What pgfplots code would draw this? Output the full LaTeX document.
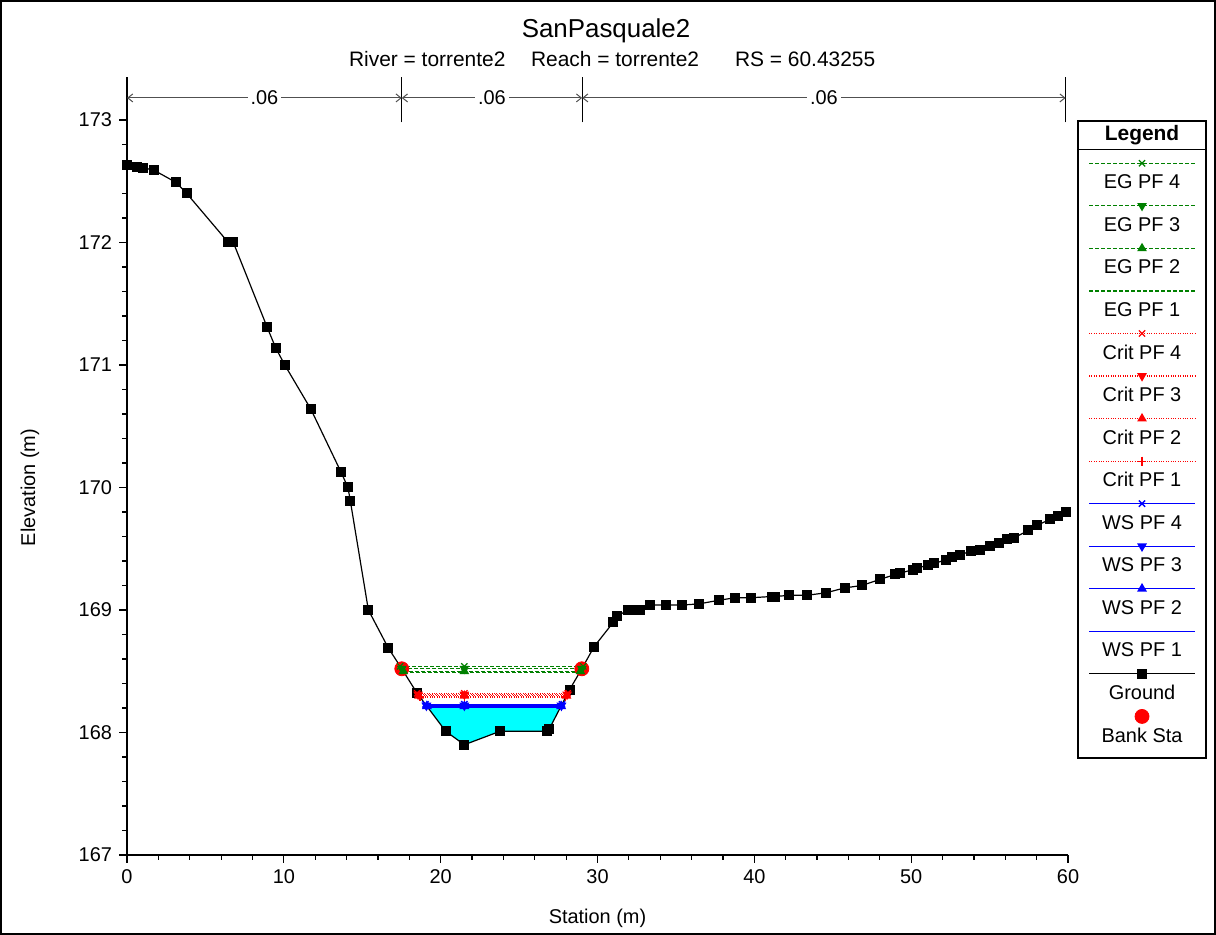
\documentclass[border=0pt]{standalone}
\usepackage{fontspec}
\setmainfont{Liberation Sans}
\usepackage{pgfplots}
\usepackage{pgfplotstable}
\pgfplotsset{compat=1.18}
\usetikzlibrary{arrows.meta}

\definecolor{egreen}{RGB}{0,128,0}
\definecolor{cred}{RGB}{255,0,0}
\definecolor{wblue}{RGB}{0,0,255}
\definecolor{water}{RGB}{0,255,255}
\definecolor{ngray}{RGB}{80,80,80}

% Ground profile: station (m), elevation (m)
\pgfplotstableread{
sta elev
0.00 172.63
0.62 172.62
1.04 172.61
1.72 172.59
3.13 172.49
3.81 172.40
6.46 172.00
6.78 172.00
8.93 171.31
9.48 171.14
10.06 171.00
11.72 170.64
13.63 170.13
14.09 170.00
14.24 169.89
15.39 169.00
16.66 168.69
17.52 168.52
18.50 168.32
20.32 168.01
21.51 167.90
23.79 168.01
26.77 168.01
26.93 168.03
28.22 168.35
29.00 168.52
29.78 168.70
31.01 168.90
31.23 168.95
31.97 169.00
32.40 169.00
32.72 169.00
33.35 169.04
34.35 169.04
35.37 169.04
36.48 169.05
37.76 169.08
38.78 169.10
39.78 169.10
41.11 169.11
41.33 169.11
42.24 169.12
43.35 169.12
44.56 169.14
45.75 169.18
46.85 169.20
48.02 169.25
48.98 169.29
49.30 169.30
50.11 169.33
50.40 169.34
51.10 169.37
51.47 169.38
52.23 169.41
52.60 169.43
53.12 169.45
53.81 169.48
54.40 169.49
55.04 169.52
55.63 169.55
56.10 169.58
56.57 169.59
57.48 169.65
58.01 169.69
58.86 169.74
59.33 169.77
59.85 169.80
}\ground

\newcommand{\txt}{\fontsize{10}{12}\selectfont}

\tikzset{
  egline/.style={egreen, line width=0.6bp, dash pattern=on 2bp off 1bp},
  critline/.style={cred, line width=0.6bp, dash pattern=on 0.5bp off 0.7bp},
  wsline/.style={wblue, line width=0.7bp},
  nbar/.style={ngray, line width=0.5bp, {Straight Barb[length=2.5bp,width=4bp]}-{Straight Barb[length=2.5bp,width=4bp]}},
  nlab/.style={fill=white, inner sep=1.5bp, text=black, font=\txt},
}

\begin{document}
\begin{tikzpicture}[x=1bp,y=1bp]
\useasboundingbox (0,0) rectangle (608,467.5);
\draw[line width=1.2bp] (0.6,0.6) rectangle (607.4,466.9);

\node[anchor=base, font=\fontsize{13}{15}\selectfont] at (303,448.5) {SanPasquale2};
\node[anchor=base west, font=\fontsize{10.5}{12}\selectfont] at (171,434) {River = torrente2};
\node[anchor=base west, font=\fontsize{10.5}{12}\selectfont] at (262,434) {Reach = torrente2};
\node[anchor=base west, font=\fontsize{10.5}{12}\selectfont] at (364,434) {RS = 60.43255};

\begin{axis}[
  at={(63.5bp,40bp)}, anchor=south west,
  scale only axis, width=470.5bp, height=367.5bp,
  xmin=0, xmax=60, ymin=167, ymax=173,
  axis x line=bottom, axis y line=left,
  axis line style={-, line width=0.6bp},
  xtick={0,10,...,60}, ytick={167,...,173},
  minor x tick num=4, minor y tick num=4,
  tick align=outside, major tick length=4bp, minor tick length=2.5bp,
  tick style={black, line width=0.6bp},
  tick label style={font=\txt},
  /pgf/number format/assume math mode=true,
  xlabel={Station (m)}, ylabel={Elevation (m)},
  label style={font=\txt},
  xlabel style={at={(axis description cs:0.5,-0.0857)}, anchor=center},
  ylabel style={at={(axis description cs:-0.1031,0.5)}, anchor=center},
  clip=false,
]
% water area below the computed surface
\addplot[fill=water, draw=none] coordinates {
  (19.09,168.22) (20.32,168.01) (21.51,167.90) (23.79,168.01)
  (26.77,168.01) (26.93,168.03) (27.70,168.22)};

% ground
\addplot[black, line width=0.6bp, mark=square*, mark size=2.2bp]
  table[x=sta, y=elev] {\ground};

% bank stations
\addplot[only marks, cred, mark=*, mark size=3.5bp]
  coordinates {(17.52,168.52) (29.00,168.52)};

% water surface
\addplot[wsline] coordinates {(19.18,168.205) (27.64,168.205)};
\addplot[wsline, mark=triangle*, mark size=2.2bp]
  coordinates {(19.12,168.215) (21.51,168.215) (27.68,168.215)};
\addplot[wsline, mark=triangle*, mark size=2.2bp, mark options={rotate=180}]
  coordinates {(19.09,168.22) (21.51,168.22) (27.70,168.22)};
\addplot[wsline, mark=x, mark size=2.2bp]
  coordinates {(19.03,168.23) (21.51,168.23) (27.74,168.23)};

% critical depth
\addplot[critline, mark=+, mark size=2.2bp, mark options={solid}]
  coordinates {(18.68,168.29) (21.51,168.29) (27.98,168.29)};
\addplot[critline, mark=triangle*, mark size=2.2bp, mark options={solid}]
  coordinates {(18.62,168.30) (21.51,168.30) (28.02,168.30)};
\addplot[critline, mark=triangle*, mark size=2.2bp, mark options={solid, rotate=180}]
  coordinates {(18.56,168.31) (21.51,168.31) (28.06,168.31)};
\addplot[critline, mark=x, mark size=2.2bp, mark options={solid}]
  coordinates {(18.50,168.32) (21.51,168.32) (28.10,168.32)};

% energy grade
\addplot[egline] coordinates {(17.67,168.49) (28.86,168.49)};
\addplot[egline, mark=triangle*, mark size=2.2bp, mark options={solid}]
  coordinates {(17.62,168.50) (21.51,168.50) (28.91,168.50)};
\addplot[egline, mark=triangle*, mark size=2.2bp, mark options={solid, rotate=180}]
  coordinates {(17.52,168.52) (21.51,168.52) (29.00,168.52)};
\addplot[egline, mark=x, mark size=2.2bp, mark options={solid}]
  coordinates {(17.42,168.54) (21.51,168.54) (29.09,168.54)};

% Manning's n regions
\draw[line width=0.6bp] (axis cs:0,173) -- (axis cs:0,173.35);
\draw[line width=0.6bp] (axis cs:17.52,172.98) -- (axis cs:17.52,173.35);
\draw[line width=0.6bp] (axis cs:29.02,172.98) -- (axis cs:29.02,173.35);
\draw[line width=0.6bp] (axis cs:59.85,172.98) -- (axis cs:59.85,173.35);
\draw[nbar] (axis cs:0,173.18) -- node[nlab] {.06} (axis cs:17.52,173.18);
\draw[nbar] (axis cs:17.52,173.18) -- node[nlab] {.06} (axis cs:29.02,173.18);
\draw[nbar] (axis cs:29.02,173.18) -- node[nlab] {.06} (axis cs:59.85,173.18);
\end{axis}

% legend panel
\begin{axis}[
  at={(539bp,88.5bp)}, anchor=south west,
  scale only axis, width=64bp, height=318.5bp,
  xmin=1078, xmax=1206, ymin=-758, ymax=-121,
  ticks=none, axis line style={black, line width=0.8bp},
  clip=false,
]
\draw[line width=0.6bp] (axis cs:1078,-149.3) -- (axis cs:1206,-149.3);
\node[font=\fontsize{10.5}{12}\selectfont\bfseries] at (axis cs:1142,-135) {Legend};

\addplot[egline, mark=x, mark size=2.2bp, mark indices={2}, mark options={solid}]
  coordinates {(1089,-163.3) (1142,-163.3) (1195,-163.3)};
\node[font=\txt] at (axis cs:1142,-181.9) {EG PF 4};
\addplot[egline, mark=triangle*, mark size=2.2bp, mark indices={2}, mark options={solid, rotate=180}]
  coordinates {(1089,-205.85) (1142,-205.85) (1195,-205.85)};
\node[font=\txt] at (axis cs:1142,-224.45) {EG PF 3};
\addplot[egline, mark=triangle*, mark size=2.2bp, mark indices={2}, mark options={solid}]
  coordinates {(1089,-248.4) (1142,-248.4) (1195,-248.4)};
\node[font=\txt] at (axis cs:1142,-267.0) {EG PF 2};
\addplot[egline] coordinates {(1089,-290.95) (1195,-290.95)};
\node[font=\txt] at (axis cs:1142,-309.55) {EG PF 1};

\addplot[critline, mark=x, mark size=2.2bp, mark indices={2}, mark options={solid}]
  coordinates {(1089,-333.5) (1142,-333.5) (1195,-333.5)};
\node[font=\txt] at (axis cs:1142,-352.1) {Crit PF 4};
\addplot[critline, mark=triangle*, mark size=2.2bp, mark indices={2}, mark options={solid, rotate=180}]
  coordinates {(1089,-376.05) (1142,-376.05) (1195,-376.05)};
\node[font=\txt] at (axis cs:1142,-394.65) {Crit PF 3};
\addplot[critline, mark=triangle*, mark size=2.2bp, mark indices={2}, mark options={solid}]
  coordinates {(1089,-418.6) (1142,-418.6) (1195,-418.6)};
\node[font=\txt] at (axis cs:1142,-437.2) {Crit PF 2};
\addplot[critline, mark=+, mark size=2.2bp, mark indices={2}, mark options={solid}]
  coordinates {(1089,-461.15) (1142,-461.15) (1195,-461.15)};
\node[font=\txt] at (axis cs:1142,-479.75) {Crit PF 1};

\addplot[wsline, mark=x, mark size=2.2bp, mark indices={2}]
  coordinates {(1089,-503.7) (1142,-503.7) (1195,-503.7)};
\node[font=\txt] at (axis cs:1142,-522.3) {WS PF 4};
\addplot[wsline, mark=triangle*, mark size=2.2bp, mark indices={2}, mark options={rotate=180}]
  coordinates {(1089,-546.25) (1142,-546.25) (1195,-546.25)};
\node[font=\txt] at (axis cs:1142,-564.85) {WS PF 3};
\addplot[wsline, mark=triangle*, mark size=2.2bp, mark indices={2}]
  coordinates {(1089,-588.8) (1142,-588.8) (1195,-588.8)};
\node[font=\txt] at (axis cs:1142,-607.4) {WS PF 2};
\addplot[wsline] coordinates {(1089,-631.35) (1195,-631.35)};
\node[font=\txt] at (axis cs:1142,-649.95) {WS PF 1};

\addplot[black, line width=0.6bp, mark=square*, mark size=2.2bp, mark indices={2}]
  coordinates {(1089,-673.9) (1142,-673.9) (1195,-673.9)};
\node[font=\txt] at (axis cs:1142,-692.5) {Ground};
\addplot[only marks, cred, mark=*, mark size=3.5bp]
  coordinates {(1142,-716.45)};
\node[font=\txt] at (axis cs:1142,-735.05) {Bank Sta};
\end{axis}
\end{tikzpicture}
\end{document}
